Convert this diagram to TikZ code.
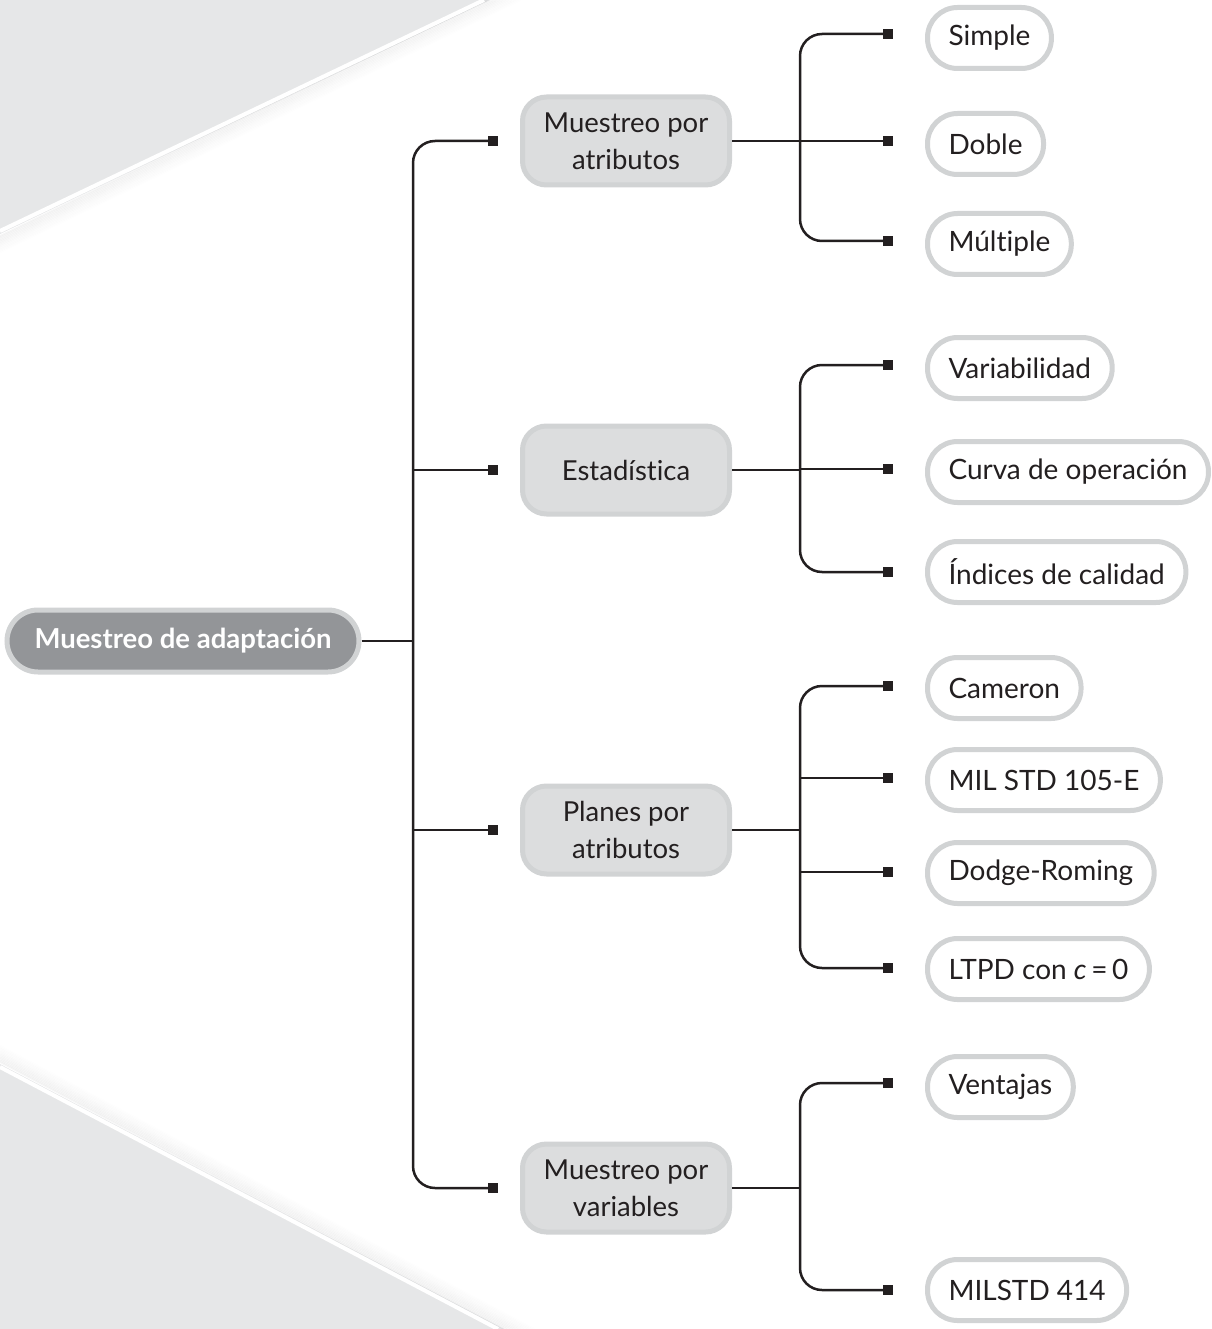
\documentclass[tikz,border=0pt]{standalone}
\usepackage{fontspec}
\setmainfont[Ligatures=NoCommon]{Lato}
\definecolor{bg}{HTML}{E6E7E8}
\definecolor{bord}{HTML}{D1D3D4}
\definecolor{midfill}{HTML}{DCDDDE}
\definecolor{rootfill}{HTML}{939598}
\definecolor{txt}{HTML}{231F20}
\begin{document}
\begin{tikzpicture}[x=1pt,y=-1pt,
  conn/.style={line width=2.5pt, draw=txt, rounded corners=22pt},
  sq/.style={fill=txt, minimum size=10pt, inner sep=0pt, outer sep=0pt},
  leaf/.style={draw=bord, line width=5pt, fill=white, rounded corners=30pt, minimum height=61pt, inner xsep=21pt, anchor=west, font=\fontsize{28}{32}\selectfont, text=txt},
  mid/.style={draw=bord, line width=5pt, fill=midfill, rounded corners=24pt, minimum width=207pt, minimum height=88pt, align=center, font=\fontsize{27.5}{37}\selectfont, text=txt},
  rootbox/.style={draw=bord, line width=5pt, fill=rootfill, rounded corners=31pt, minimum width=352pt, minimum height=62pt, font=\fontsize{27.5}{32}\selectfont\bfseries, text=white}]
\useasboundingbox (0,0) rectangle (1211,1329);
% background
\fill[bg] (0,0) -- (490,0) -- (0,234) -- cycle;
\foreach \i in {0,...,11} \draw[line width=1.6pt, draw=black, opacity={0.04*(1-\i/12)}] (0,{236+\i*1.5}) -- ({487+\i*3.1},0);
\draw[white, line width=4pt] (0,231) -- (484,0);
\fill[bg] (0,1064) -- (504,1329) -- (0,1329) -- cycle;
\foreach \i in {0,...,11} \draw[line width=1.6pt, draw=black, opacity={0.04*(1-\i/12)}] (0,{1062-\i*1.5}) -- ({504+\i*2.8},1329);
\draw[white, line width=4pt] (0,1067) -- (498,1329);

% root
\node[rootbox] (root) at (183,641) {Muestreo de adaptación};
% mid nodes
\node[mid] (m1) at (626,141) {Muestreo por\\atributos};
\node[mid] (m2) at (626,470) {Estadística};
\node[mid] (m3) at (626,830) {Planes por\\atributos};
\node[mid] (m4) at (626,1188) {Muestreo por\\variables};
\node[sq] (s1) at (493,141) {};
\node[sq] (s2) at (493,470) {};
\node[sq] (s3) at (493,830) {};
\node[sq] (s4) at (493,1188) {};
\coordinate (t) at (413,641);
\draw[conn] (s1.west) -| (t) |- (s4.west);
\draw[conn] (t |- s2) -- (s2.west);
\draw[conn] (t |- s3) -- (s3.west);
\draw[conn] (root.east) -- (t);

% group 1
\node[leaf] (a1) at (925,38) {Simple};
\node[leaf] (a2) at (925,144) {Doble};
\node[leaf] (a3) at (925,244) {Múltiple};
\node[sq] (as1) at (888,34) {};
\node[sq] (as2) at (888,141) {};
\node[sq] (as3) at (888,241) {};
\coordinate (b1) at (800,141);
\draw[conn] (m1.east) -- (b1);
\draw[conn] (as1.west) -| (b1) |- (as3.west);
\draw[conn] (b1 |- as2) -- (as2.west);

% group 2
\node[leaf] (c1) at (925,368) {Variabilidad};
\node[leaf] (c2) at (925,472) {Curva de operación};
\node[leaf] (c3) at (925,572) {Índices de calidad};
\node[sq] (cs1) at (888,365) {};
\node[sq] (cs2) at (888,469) {};
\node[sq] (cs3) at (888,572) {};
\coordinate (b2) at (800,470);
\draw[conn] (m2.east) -- (b2);
\draw[conn] (cs1.west) -| (b2) |- (cs3.west);
\draw[conn] (b2 |- cs2) -- (cs2.west);

% group 3
\node[leaf] (d1) at (925,688) {Cameron};
\node[leaf] (d2) at (925,780) {MIL STD 105-E};
\node[leaf] (d3) at (925,873) {Dodge-Roming};
\node[leaf] (d4) at (925,969) {LTPD con {\itshape c}\,=\,0};
\node[sq] (ds1) at (888,686) {};
\node[sq] (ds2) at (888,778) {};
\node[sq] (ds3) at (888,872) {};
\node[sq] (ds4) at (888,968) {};
\coordinate (b3) at (800,830);
\draw[conn] (m3.east) -- (b3);
\draw[conn] (ds1.west) -| (b3) |- (ds4.west);
\draw[conn] (b3 |- ds2) -- (ds2.west);
\draw[conn] (b3 |- ds3) -- (ds3.west);

% group 4
\node[leaf] (e1) at (925,1087) {Ventajas};
\node[leaf] (e2) at (925,1290) {MILSTD 414};
\node[sq] (es1) at (888,1083) {};
\node[sq] (es2) at (888,1290) {};
\coordinate (b4) at (800,1188);
\draw[conn] (m4.east) -- (b4);
\draw[conn] (es1.west) -| (b4) |- (es2.west);
\end{tikzpicture}
\end{document}
